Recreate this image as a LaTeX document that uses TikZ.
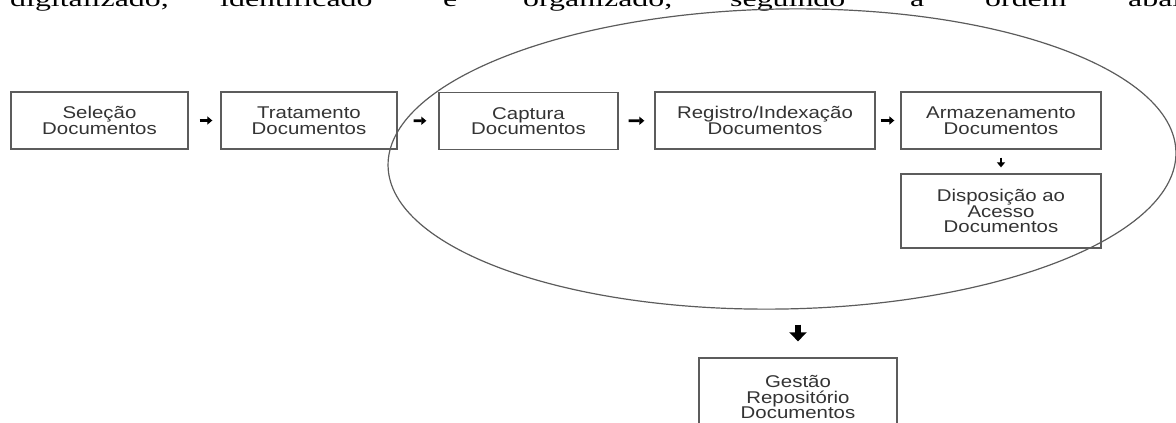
\documentclass[tikz,border=0pt]{standalone}
\usepackage{fontspec}
\setmainfont{Liberation Serif}
\newfontfamily\boxfont[FakeStretch=1.2]{Liberation Sans}
\newfontfamily\pagefont[FakeStretch=1.45]{Liberation Serif}
\usetikzlibrary{shapes.geometric,arrows.meta}
\definecolor{boxgray}{HTML}{5C5C5C}
\definecolor{textgray}{HTML}{333333}

\begin{document}
\begin{tikzpicture}[x=1pt, y=-1pt,
    box/.style={draw=boxgray, line width=1.3pt, minimum width=#1, minimum height=57pt,
        inner sep=0pt, align=center, text=textgray, font=\boxfont\fontsize{17}{15.5}\selectfont},
    box/.default=177pt,
    flow/.style={line width=2.6pt, -{Triangle[length=5pt,width=8pt]}},
    bigflow/.style={line width=6pt, -{Triangle[length=9pt,width=17pt]}},
    word/.style={anchor=base west, inner sep=0pt, font=\pagefont\fontsize{22}{26}\selectfont}]
    \useasboundingbox (0,0) rectangle (1176,423);
    \clip (0,0) rectangle (1176,423);

    % Line of running text, cut by the page
    \node[word] (w_1) at (10,6) {digitalizado,};
    \node[word] (w_2) at (220,6) {identificado};
    \node[word] (w_3) at (443,6) {e};
    \node[word] (w_4) at (523,6) {organizado,};
    \node[word] (w_5) at (730,6) {seguindo};
    \node[word] (w_6) at (910,6) {a};
    \node[word] (w_7) at (985,6) {ordem};
    \node[word] (w_8) at (1128,6) {abaixo};

    % Cycle around the digital steps
    \node[draw=boxgray, line width=1.2pt, ellipse, minimum width=788pt, minimum height=300pt,
        inner sep=0pt, rotate=1] (ciclo) at (782,159) {};

    % Add steps
    \node[box] (selecao) at (99.5,120.5) {Seleção\\Documentos};
    \node[box=176pt] (tratamento) at (309,120.5) {Tratamento\\Documentos};
    \node[box=179pt] (captura) at (528.5,121) {Captura\\Documentos};
    \node[box=220pt] (registro) at (765,120.5) {Registro/Indexação\\Documentos};
    \node[box=200pt] (armazenamento) at (1001,120.5) {Armazenamento\\Documentos};
    \node[box=200pt, minimum height=74pt] (disposicao) at (1001,211)
        {Disposição ao\\Acesso\\Documentos};
    \node[box=198pt, minimum height=78pt] (gestao) at (798,397)
        {Gestão\\Repositório\\Documentos};

    % Draw edges
    \draw[flow, shorten <=11pt, shorten >=8pt] (selecao) -- (tratamento);
    \draw[flow, shorten <=16pt, shorten >=12pt] (tratamento) -- (captura);
    \draw[flow, shorten <=10pt, shorten >=10pt] (captura) -- (registro);
    \draw[flow, shorten <=5pt, shorten >=6pt] (registro) -- (armazenamento);
    \draw[flow, shorten <=8pt, shorten >=6pt] (armazenamento) -- (disposicao);
    \draw[bigflow, shorten <=15pt, shorten >=16pt] (gestao.north |- ciclo.south) -- (gestao.north);
\end{tikzpicture}
\end{document}
